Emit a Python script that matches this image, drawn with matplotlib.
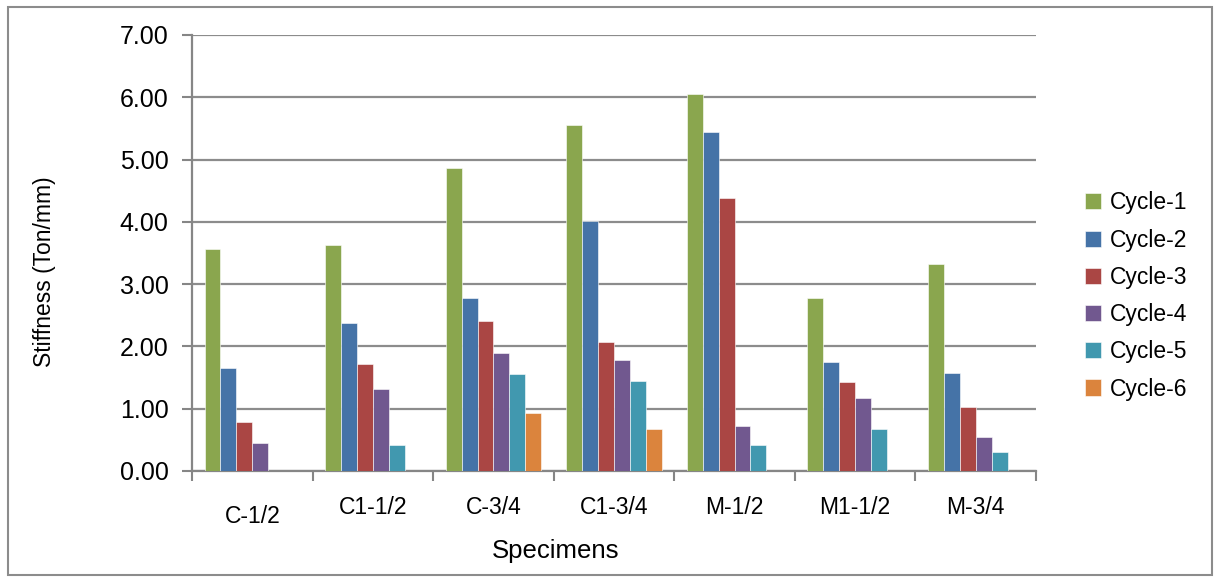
import numpy as np
import matplotlib
matplotlib.use("Agg")
import matplotlib.pyplot as plt
import matplotlib.transforms as mtransforms
from matplotlib.patches import Rectangle

# data
specimens = ['C-1/2', 'C1-1/2', 'C-3/4', 'C1-3/4', 'M-1/2', 'M1-1/2', 'M-3/4']
cycle_1 = [3.57, 3.63, 4.87, 5.55, 6.05, 2.78, 3.33]
cycle_2 = [1.66, 2.37, 2.78, 4.01, 5.44, 1.75, 1.57]
cycle_3 = [0.79, 1.71, 2.41, 2.07, 4.39, 1.43, 1.03]
cycle_4 = [0.45, 1.32, 1.89, 1.79, 0.73, 1.18, 0.54]
cycle_5 = [np.nan, 0.41, 1.55, 1.44, 0.41, 0.68, 0.30]
cycle_6 = [np.nan, np.nan, 0.93, 0.67, np.nan, np.nan, np.nan]
series_names = ['Cycle-1', 'Cycle-2', 'Cycle-3', 'Cycle-4', 'Cycle-5', 'Cycle-6']
yticks = [0, 1, 2, 3, 4, 5, 6, 7]

all_series = [cycle_1, cycle_2, cycle_3, cycle_4, cycle_5, cycle_6]
colors = ['#8aa64e', '#4573a7', '#aa4644', '#71588f', '#4198af', '#db843d']

plt.rcParams['font.family'] = ['Liberation Sans', 'DejaVu Sans']

fig = plt.figure(figsize=(12.14, 5.77), dpi=100)
ax = fig.add_axes([192/1214, 1 - 471/577, (1036-192)/1214, (471-35)/577])

x = np.arange(len(specimens))
w = 0.132
for j, vals in enumerate(all_series):
    ax.bar(x + (j - 2.5) * w, vals, width=w, color=colors[j],
           edgecolor='white', linewidth=0.4, label=series_names[j], zorder=3)

ax.set_xlim(-0.5, len(specimens) - 0.5)
ax.set_ylim(0, 7)
ax.set_yticks(yticks)
ax.set_yticklabels(['%.2f' % v for v in yticks], fontsize=18)
ax.yaxis.grid(True, color='#8c8c8c', linewidth=1.6, zorder=0)

# category boundaries as ticks, names placed below
ax.set_xticks(np.arange(len(specimens) + 1) - 0.5)
ax.set_xticklabels([])
ax.tick_params(axis='both', direction='out', length=7, width=1.5, color='#868686')
ax.tick_params(axis='y', pad=10)
for s in ['top', 'right']:
    ax.spines[s].set_visible(False)
for s in ['left', 'bottom']:
    ax.spines[s].set_color('#868686')
    ax.spines[s].set_linewidth(1.6)

trans = mtransforms.blended_transform_factory(ax.transData, ax.transAxes)
label_drop = [33, 26, 26, 26, 26, 26, 26]
for i, name in enumerate(specimens):
    off = mtransforms.ScaledTranslation(0, -label_drop[i] / 72, fig.dpi_scale_trans)
    ax.text(i, 0, name, transform=trans + off, ha='center', va='center', fontsize=16.5)

fig.text(556/1214, 1 - 551/577, 'Specimens', ha='center', va='center', fontsize=18.5)
fig.text(45/1214, 1 - 272/577, 'Stiffness (Ton/mm)', ha='center', va='center',
         rotation=90, fontsize=16.5)

ax.legend(loc='center left', bbox_to_anchor=(1085/1214, 1 - 296/577),
          bbox_transform=fig.transFigure, frameon=False, fontsize=16.5,
          handlelength=0.7, handleheight=0.7, handletextpad=0.4,
          labelspacing=0.62, borderpad=0, borderaxespad=0)

# outer chart border
fig.patches.append(Rectangle((8/1214, 2/577), 1204/1214, 568/577, transform=fig.transFigure,
                             fill=False, edgecolor='#8c8c8c', linewidth=1.5))

fig.savefig('out.png', dpi=100)
